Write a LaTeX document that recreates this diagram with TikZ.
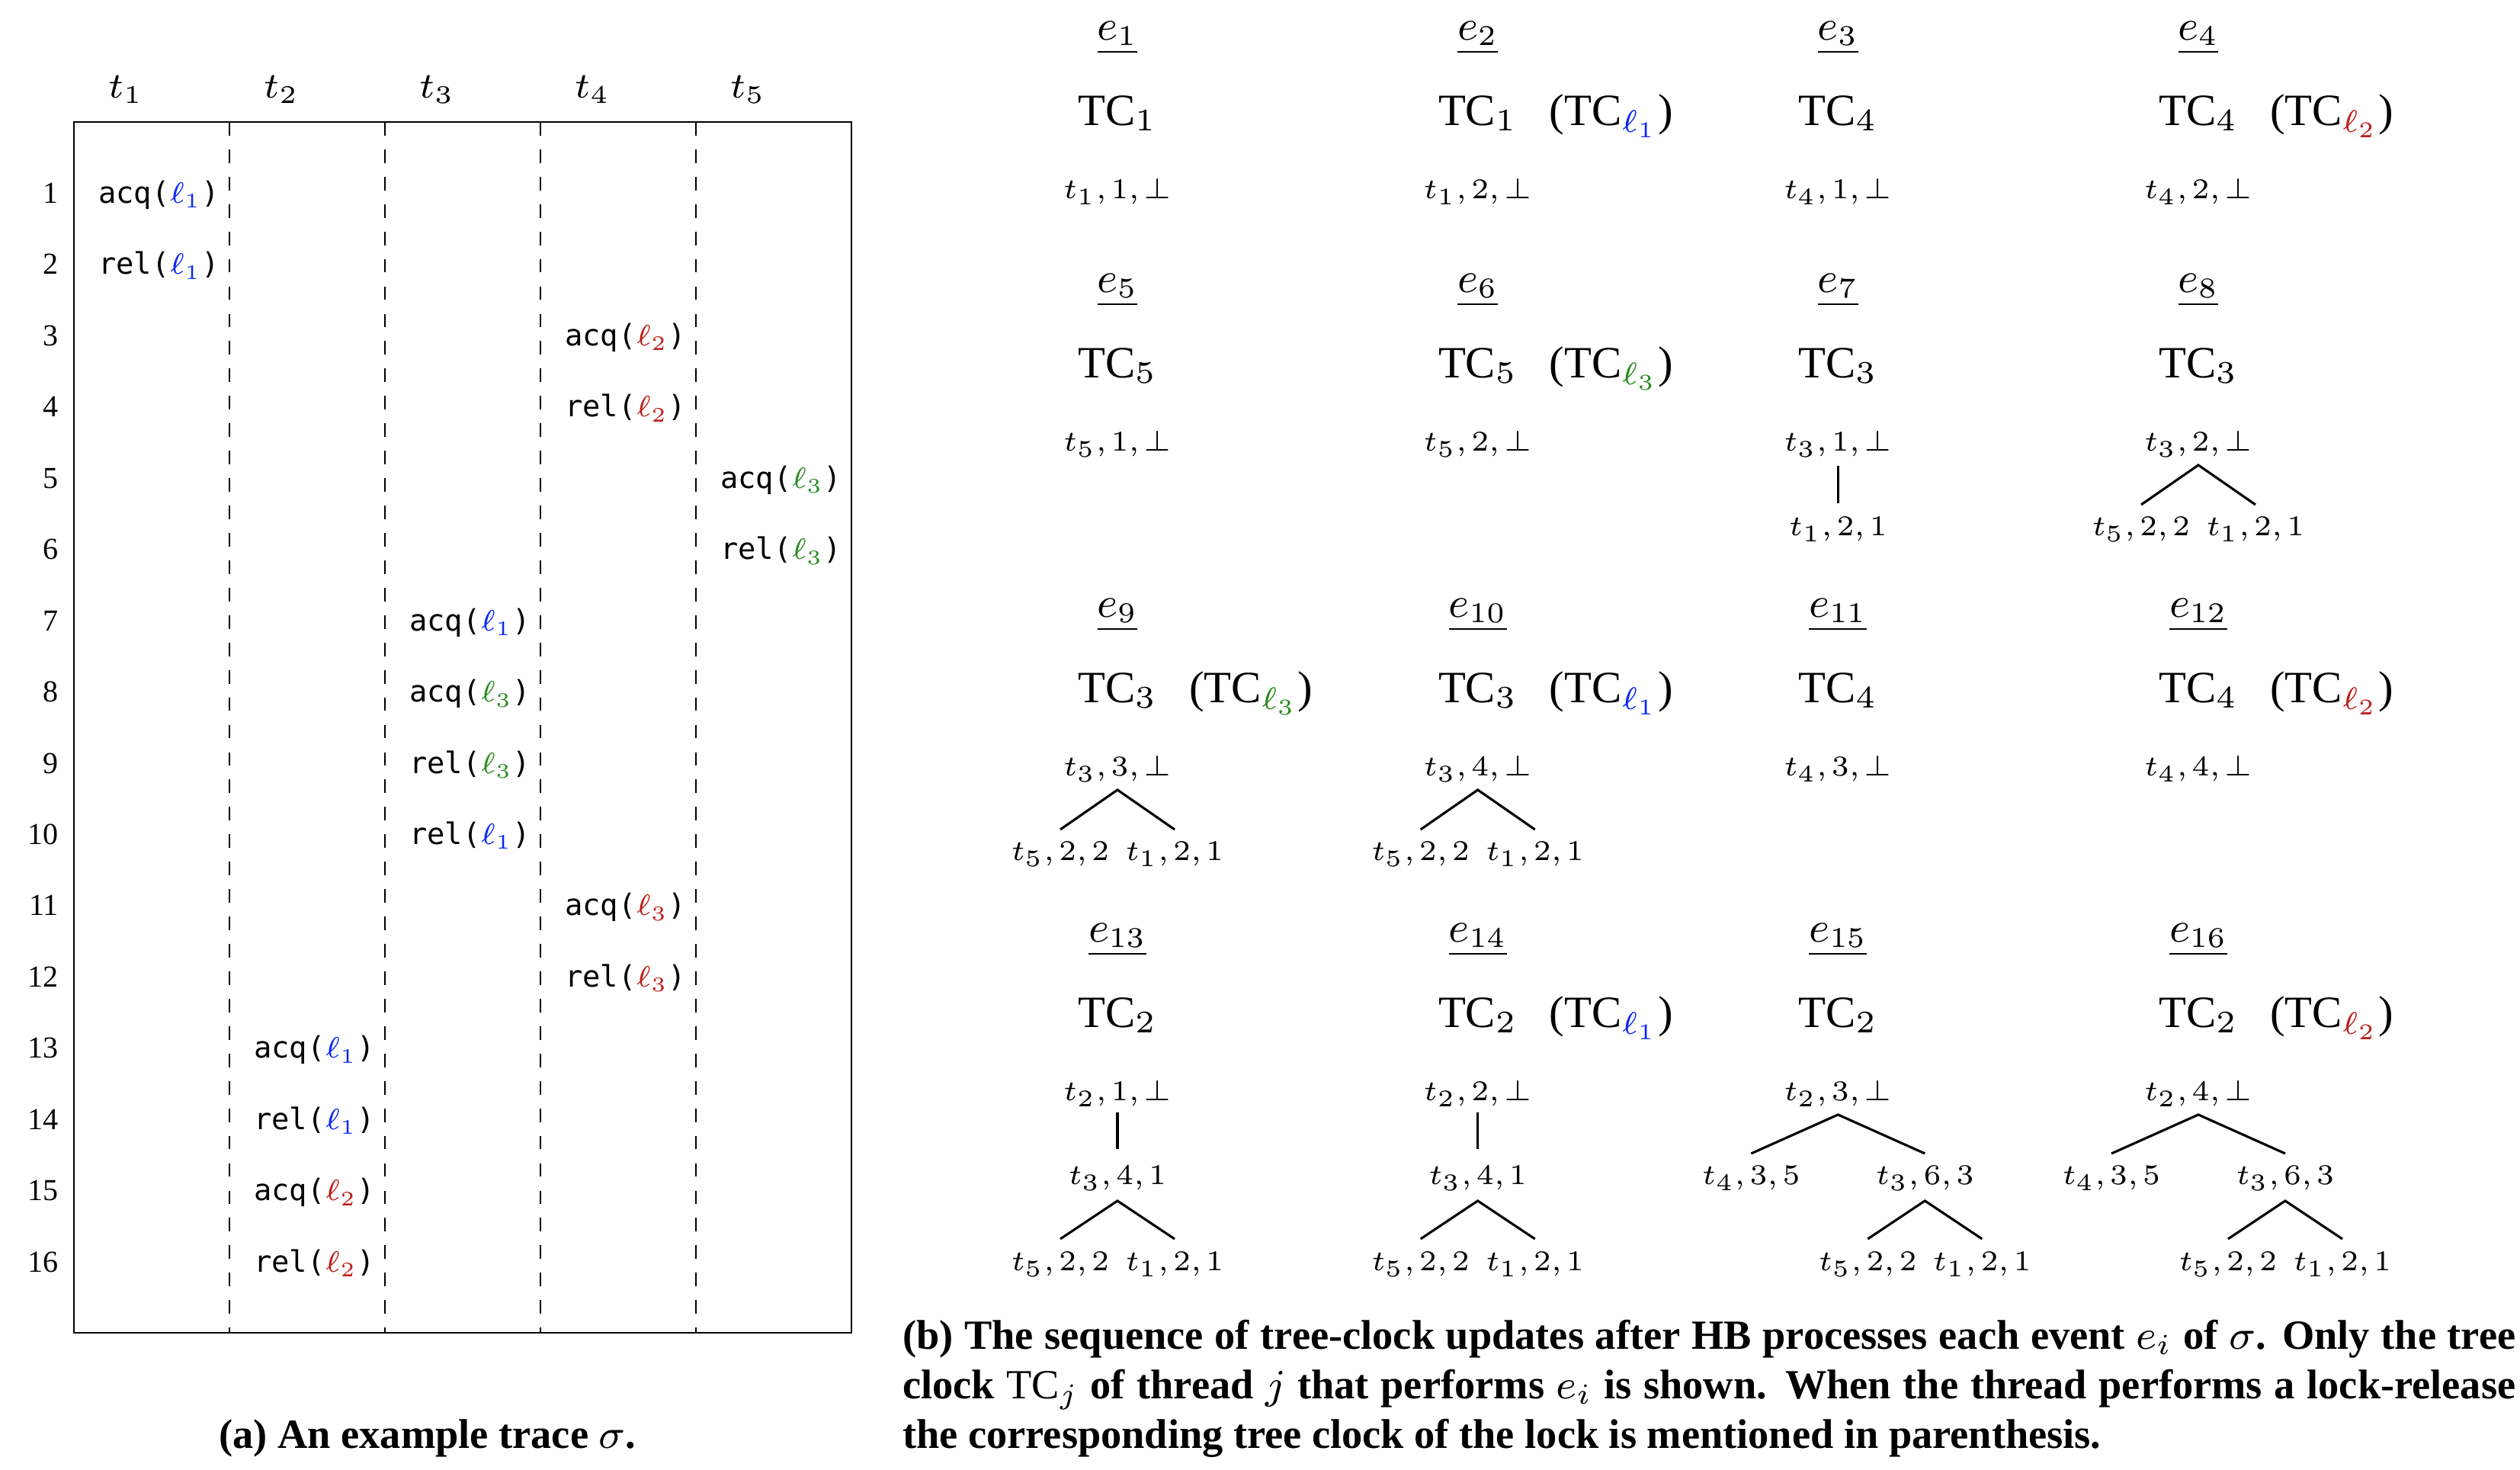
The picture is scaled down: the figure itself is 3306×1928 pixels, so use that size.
\RequirePackage{fix-cm}
\documentclass[tikz,border=0pt]{standalone}
\usepackage{fontspec}
\setmainfont{Liberation Serif}
\setmonofont{DejaVu Sans Mono}
\usetikzlibrary{calc}
\definecolor{lblue}{RGB}{10,40,245}
\definecolor{lred}{RGB}{190,30,25}
\definecolor{lgreen}{RGB}{40,140,30}
\newcommand{\evt}[3]{\texttt{#1(}$\textcolor{#2}{\ell_{#3}}$\texttt{)}}
\newcommand{\tclk}[2]{(TC$_{\textcolor{#1}{\ell_{#2}}}$)}
\newcommand{\capw}{338.6pt}
\newcommand{\tupfont}{\fontsize{6.0}{8}\selectfont\thinmuskip=2.2mu\relax}
\begin{document}
\begin{tikzpicture}[x={(0.16pt,0)},y={(0,-0.16pt)},
  frame/.style={line width=0.45pt},
  sep/.style={line width=0.45pt,dash pattern=on 2.85pt off 2.9pt},
  rownum/.style={anchor=base east,inner sep=0pt,font=\fontsize{6.4}{7}\selectfont},
  thr/.style={anchor=base,inner sep=0pt,font=\fontsize{7.6}{9}\selectfont},
  ev/.style={anchor=base west,inner sep=0pt,font=\fontsize{6.2}{7}\ttfamily},
  elab/.style={anchor=base,inner sep=0pt,font=\fontsize{9}{10}\selectfont},
  tc/.style={anchor=base,inner sep=0pt,font=\fontsize{9.4}{10}\selectfont},
  tcl/.style={anchor=base west,inner sep=0pt,font=\fontsize{9.4}{10}\selectfont},
  tup/.style={anchor=base,inner sep=0pt,font=\tupfont},
  edge/.style={line width=0.5pt},
  capt/.style={inner sep=0pt,font=\bfseries\fontsize{8.7}{10.4}\selectfont}]
\useasboundingbox (0,0) rectangle (3306,1928);

% ---------------- (a) trace table ----------------
\draw[frame] (97,160) rectangle (1117,1748);
\foreach \x in {301,505,709,913} \draw[sep] (\x,160) -- (\x,1748);
\foreach \i/\x in {1/165,2/369,3/573,4/777,5/981}
  \node[thr] (th\i) at (\x,129) {$t_{\i}$};
\foreach \k in {1,...,16}
  \node[rownum] (n\k) at (78,{266.5+(\k-1)*93.45}) {\k};
\foreach \k/\c/\op/\col/\n in {1/1/acq/lblue/1,2/1/rel/lblue/1,3/4/acq/lred/2,4/4/rel/lred/2,
  5/5/acq/lgreen/3,6/5/rel/lgreen/3,7/3/acq/lblue/1,8/3/acq/lgreen/3,9/3/rel/lgreen/3,
  10/3/rel/lblue/1,11/4/acq/lred/3,12/4/rel/lred/3,13/2/acq/lblue/1,14/2/rel/lblue/1,
  15/2/acq/lred/2,16/2/rel/lred/2}
  \node[ev] (ev\k) at ({128+204*(\c-1)},{266.5+(\k-1)*93.45}) {\evt{\op}{\col}{\n}};
\node[capt,anchor=base] (capa) at (561,1900) {(a) An example trace $\sigma$.};

% ---------------- (b) tree clocks ----------------
% row A
\node[elab] (e1) at (1466,53) {$\underline{e_{1}}$};
\node[elab] (e2) at (1938.7,53) {$\underline{e_{2}}$};
\node[elab] (e3) at (2411.3,53) {$\underline{e_{3}}$};
\node[elab] (e4) at (2884,53) {$\underline{e_{4}}$};
\node[tc] (tc1) at (1466,165) {TC$_{1}$};
\node[tc] (tc2) at (1938.7,165) {TC$_{1}$};
\node[tcl] (tl2) at ($(tc2.base east)+(40,0)$) {\tclk{lblue}{1}};
\node[tc] (tc3) at (2411.3,165) {TC$_{4}$};
\node[tc] (tc4) at (2884,165) {TC$_{4}$};
\node[tcl] (tl4) at ($(tc4.base east)+(40,0)$) {\tclk{lred}{2}};
\node[tup] (r1) at (1466,261) {$t_1, 1, \bot$};
\node[tup] (r2) at (1938.7,261) {$t_1, 2, \bot$};
\node[tup] (r3) at (2411.3,261) {$t_4, 1, \bot$};
\node[tup] (r4) at (2884,261) {$t_4, 2, \bot$};
% row B
\node[elab] (e5) at (1466,384) {$\underline{e_{5}}$};
\node[elab] (e6) at (1938.7,384) {$\underline{e_{6}}$};
\node[elab] (e7) at (2411.3,384) {$\underline{e_{7}}$};
\node[elab] (e8) at (2884,384) {$\underline{e_{8}}$};
\node[tc] (tc5) at (1466,496) {TC$_{5}$};
\node[tc] (tc6) at (1938.7,496) {TC$_{5}$};
\node[tcl] (tl6) at ($(tc6.base east)+(40,0)$) {\tclk{lgreen}{3}};
\node[tc] (tc7) at (2411.3,496) {TC$_{3}$};
\node[tc] (tc8) at (2884,496) {TC$_{3}$};
\node[tup] (r5) at (1466,592) {$t_5, 1, \bot$};
\node[tup] (r6) at (1938.7,592) {$t_5, 2, \bot$};
\node[tup] (r7) at (2411.3,592) {$t_3, 1, \bot$};
\node[tup] (r8) at (2884,592) {$t_3, 2, \bot$};
\node[tup] (c7) at (2411.3,703) {$t_1, 2, 1$};
\node[tup] (c8a) at (2809,703) {$t_5, 2, 2$};
\node[tup] (c8b) at (2959,703) {$t_1, 2, 1$};
\draw[edge] ($(r7.base)+(0,19)$) -- ($(c7.base)+(0,-43)$);
\draw[edge] ($(c8a.base)+(0,-41)$) -- ($(r8.base)+(0,18)$) -- ($(c8b.base)+(0,-41)$);
% row C
\node[elab] (e9) at (1466,810) {$\underline{e_{9}}$};
\node[elab] (e10) at (1938.7,810) {$\underline{e_{10}}$};
\node[elab] (e11) at (2411.3,810) {$\underline{e_{11}}$};
\node[elab] (e12) at (2884,810) {$\underline{e_{12}}$};
\node[tc] (tc9) at (1466,922) {TC$_{3}$};
\node[tcl] (tl9) at ($(tc9.base east)+(40,0)$) {\tclk{lgreen}{3}};
\node[tc] (tc10) at (1938.7,922) {TC$_{3}$};
\node[tcl] (tl10) at ($(tc10.base east)+(40,0)$) {\tclk{lblue}{1}};
\node[tc] (tc11) at (2411.3,922) {TC$_{4}$};
\node[tc] (tc12) at (2884,922) {TC$_{4}$};
\node[tcl] (tl12) at ($(tc12.base east)+(40,0)$) {\tclk{lred}{2}};
\node[tup] (r9) at (1466,1018) {$t_3, 3, \bot$};
\node[tup] (r10) at (1938.7,1018) {$t_3, 4, \bot$};
\node[tup] (r11) at (2411.3,1018) {$t_4, 3, \bot$};
\node[tup] (r12) at (2884,1018) {$t_4, 4, \bot$};
\node[tup] (c9a) at (1391,1129) {$t_5, 2, 2$};
\node[tup] (c9b) at (1541,1129) {$t_1, 2, 1$};
\node[tup] (c10a) at (1863.7,1129) {$t_5, 2, 2$};
\node[tup] (c10b) at (2013.7,1129) {$t_1, 2, 1$};
\draw[edge] ($(c9a.base)+(0,-41)$) -- ($(r9.base)+(0,18)$) -- ($(c9b.base)+(0,-41)$);
\draw[edge] ($(c10a.base)+(0,-41)$) -- ($(r10.base)+(0,18)$) -- ($(c10b.base)+(0,-41)$);
% row D
\node[elab] (e13) at (1466,1236) {$\underline{e_{13}}$};
\node[elab] (e14) at (1938.7,1236) {$\underline{e_{14}}$};
\node[elab] (e15) at (2411.3,1236) {$\underline{e_{15}}$};
\node[elab] (e16) at (2884,1236) {$\underline{e_{16}}$};
\node[tc] (tc13) at (1466,1348) {TC$_{2}$};
\node[tc] (tc14) at (1938.7,1348) {TC$_{2}$};
\node[tcl] (tl14) at ($(tc14.base east)+(40,0)$) {\tclk{lblue}{1}};
\node[tc] (tc15) at (2411.3,1348) {TC$_{2}$};
\node[tc] (tc16) at (2884,1348) {TC$_{2}$};
\node[tcl] (tl16) at ($(tc16.base east)+(40,0)$) {\tclk{lred}{2}};
\node[tup] (r13) at (1466,1444) {$t_2, 1, \bot$};
\node[tup] (r14) at (1938.7,1444) {$t_2, 2, \bot$};
\node[tup] (r15) at (2411.3,1444) {$t_2, 3, \bot$};
\node[tup] (r16) at (2884,1444) {$t_2, 4, \bot$};
% e13
\node[tup] (m13) at (1466,1554) {$t_3, 4, 1$};
\node[tup] (d13a) at (1391,1667) {$t_5, 2, 2$};
\node[tup] (d13b) at (1541,1667) {$t_1, 2, 1$};
\draw[edge] ($(r13.base)+(0,15)$) -- ($(m13.base)+(0,-47)$);
\draw[edge] ($(d13a.base)+(0,-42)$) -- ($(m13.base)+(0,21)$) -- ($(d13b.base)+(0,-42)$);
% e14
\node[tup] (m14) at (1938.7,1554) {$t_3, 4, 1$};
\node[tup] (d14a) at (1863.7,1667) {$t_5, 2, 2$};
\node[tup] (d14b) at (2013.7,1667) {$t_1, 2, 1$};
\draw[edge] ($(r14.base)+(0,15)$) -- ($(m14.base)+(0,-47)$);
\draw[edge] ($(d14a.base)+(0,-42)$) -- ($(m14.base)+(0,21)$) -- ($(d14b.base)+(0,-42)$);
% e15
\node[tup] (m15a) at (2297.3,1554) {$t_4, 3, 5$};
\node[tup] (m15b) at (2525.3,1554) {$t_3, 6, 3$};
\node[tup] (d15a) at (2450.3,1667) {$t_5, 2, 2$};
\node[tup] (d15b) at (2600.3,1667) {$t_1, 2, 1$};
\draw[edge] ($(m15a.base)+(0,-41)$) -- ($(r15.base)+(0,18)$) -- ($(m15b.base)+(0,-41)$);
\draw[edge] ($(d15a.base)+(0,-42)$) -- ($(m15b.base)+(0,21)$) -- ($(d15b.base)+(0,-42)$);
% e16
\node[tup] (m16a) at (2770,1554) {$t_4, 3, 5$};
\node[tup] (m16b) at (2998,1554) {$t_3, 6, 3$};
\node[tup] (d16a) at (2923,1667) {$t_5, 2, 2$};
\node[tup] (d16b) at (3073,1667) {$t_1, 2, 1$};
\draw[edge] ($(m16a.base)+(0,-41)$) -- ($(r16.base)+(0,18)$) -- ($(m16b.base)+(0,-41)$);
\draw[edge] ($(d16a.base)+(0,-42)$) -- ($(m16b.base)+(0,21)$) -- ($(d16b.base)+(0,-42)$);

% caption (b)
\node[capt,anchor=base west] (capb1) at (1183,1770) {\makebox[\capw][s]{(b) The sequence of tree-clock updates after HB processes each event $e_i$ of $\sigma$. Only the tree}};
\node[capt,anchor=base west] (capb2) at (1183,1835) {\makebox[\capw][s]{clock {\mdseries TC}$_j$ of thread $j$ that performs $e_i$ is shown. When the thread performs a lock-release}};
\node[capt,anchor=base west] (capb3) at (1183,1900) {the corresponding tree clock of the lock is mentioned in parenthesis.};
\end{tikzpicture}
\end{document}
